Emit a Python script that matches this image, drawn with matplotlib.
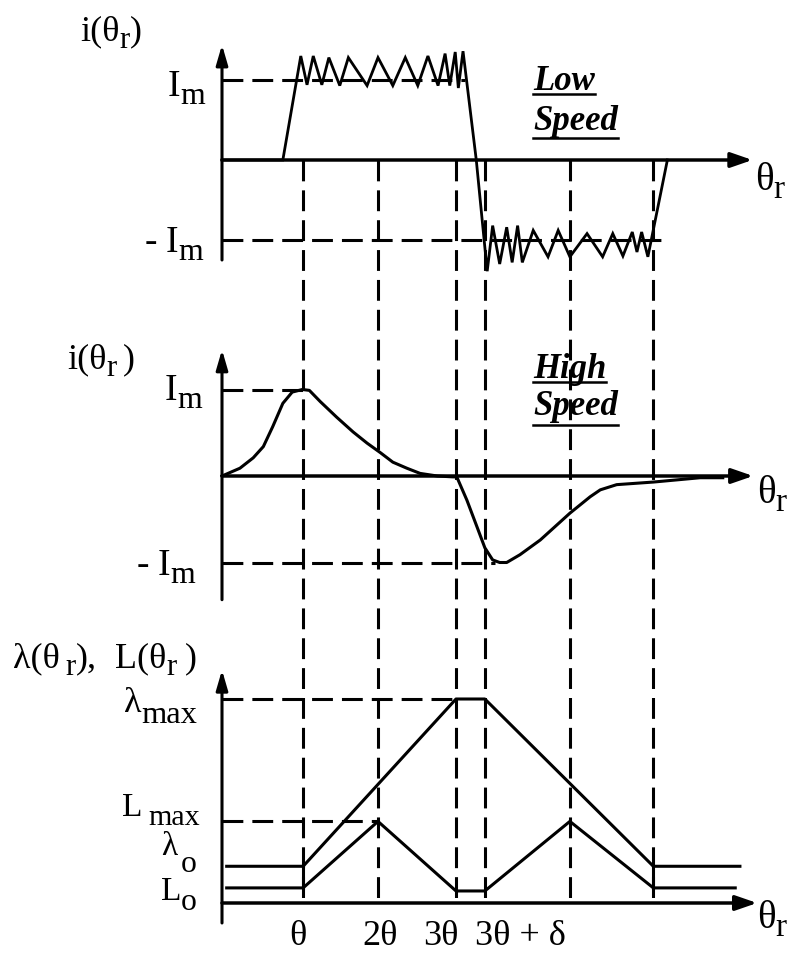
import matplotlib
matplotlib.use('Agg')
import matplotlib.pyplot as plt
from matplotlib.lines import Line2D

# ---------------- data (x in units of theta, y normalised per panel) ----------------
# positions of the vertical dashed marker lines
mark_x = [1.04, 2.0, 3.0, 3.37, 4.46, 5.53]

# low speed: chopped current around +Im / -Im  (Im = 1)
low_x = [0, 0.78, 1.01, 1.09, 1.17, 1.28, 1.37, 1.51, 1.62, 1.86,
         2.0, 2.19, 2.35, 2.51, 2.64, 2.77, 2.86, 2.92, 2.99, 3.03,
         3.09, 3.26, 3.40, 3.47, 3.56, 3.65, 3.72, 3.79, 3.85, 3.99,
         4.18, 4.31, 4.46, 4.68, 4.88, 5.01, 5.14, 5.26, 5.32, 5.38,
         5.46, 5.71]
low_i = [0, 0, 1.30, 0.94, 1.30, 0.94, 1.28, 0.93, 1.28, 0.93,
         1.28, 0.93, 1.28, 0.93, 1.30, 0.93, 1.33, 0.93, 1.35, 0.90,
         1.36, 0, -1.39, -0.82, -1.30, -0.84, -1.28, -0.82, -1.28, -0.88,
         -1.21, -0.88, -1.21, -0.92, -1.21, -0.92, -1.20, -0.90, -1.15, -0.90,
         -1.21, 0]

# high speed: single pulse current (Im = 1)
high_x = [0, 0.23, 0.40, 0.53, 0.65, 0.78, 0.90, 1.03, 1.12,
          1.26, 1.47, 1.68, 1.86, 2.03, 2.19, 2.37, 2.54, 2.76, 2.96,
          3.01, 3.14, 3.27, 3.37, 3.47, 3.56, 3.65, 3.82, 4.08, 4.46,
          4.72, 4.85, 5.06, 5.53, 6.13, 6.42]
high_i = [0, 0.09, 0.21, 0.34, 0.57, 0.84, 0.97, 1.0, 0.99,
          0.86, 0.68, 0.51, 0.38, 0.27, 0.16, 0.09, 0.03, 0.0, -0.01,
          -0.01, -0.28, -0.59, -0.83, -0.97, -1.0, -1.0, -0.91, -0.74, -0.43,
          -0.24, -0.16, -0.10, -0.07, -0.02, -0.02]

# flux linkage and inductance profiles (lambda_max = 1)
flux_x = [0.06, 1.04, 3.0, 3.37, 5.53, 6.64]
flux = [0.18, 0.18, 1.0, 1.0, 0.18, 0.18]
ind_x = [0.06, 1.04, 2.0, 3.0, 3.37, 4.46, 5.53, 6.58]
ind = [0.074, 0.074, 0.40, 0.059, 0.059, 0.40, 0.074, 0.074]

# reference levels (level, end of dashed line)
top_ref = [(1.0, 3.12), (-1.0, 5.72)]
mid_ref = [(1.0, 1.04), (-1.0, 3.5)]
bot_ref = [(1.0, 3.0), (0.40, 2.0)]

tick_labels = ['θ', '2θ', '3θ', '3θ + δ']

# ---------------- layout ----------------
W, H = 793, 956
X0, SX = 222, 78          # pixel of the origin, pixels per theta
LW = 2.2
DASH = (15, 6.5)
SERIF = 'Liberation Serif'

plt.rcParams['font.family'] = SERIF
plt.rcParams['lines.scale_dashes'] = False

fig = plt.figure(figsize=(W / 100, H / 100), dpi=100)
fig.patch.set_facecolor('white')
xlim = (-X0 / SX, (W - X0) / SX)

# overlay for the vertical dashed lines running through all panels
ov = fig.add_axes([0, 0, 1, 1])
ov.set_xlim(xlim)
ov.set_ylim(0, 1)
ov.axis('off')
for x in mark_x:
    ov.plot([x, x], [1 - 160 / H, 1 - 903 / H], color='k', lw=LW,
            linestyle=(0, DASH))


def panel(top_px, bot_px, axis_px, sy):
    ax = fig.add_axes([0, 1 - bot_px / H, 1, (bot_px - top_px) / H])
    ax.set_xlim(xlim)
    ax.set_ylim((axis_px - bot_px) / sy, (axis_px - top_px) / sy)
    ax.axis('off')
    return ax


def arrows(ax, y_lo, y_hi, x_hi):
    ax.annotate('', xy=(0, y_hi), xytext=(0, y_lo),
                arrowprops=dict(arrowstyle='-|>,head_length=1.2,head_width=0.35',
                                lw=LW, color='k', mutation_scale=10,
                                shrinkA=0, shrinkB=0))
    ax.annotate('', xy=(x_hi, 0), xytext=(0, 0),
                arrowprops=dict(arrowstyle='-|>,head_length=1.3,head_width=0.45',
                                lw=LW + 0.3, color='k', mutation_scale=10,
                                shrinkA=0, shrinkB=0))


def refs(ax, levels):
    for lev, xe in levels:
        ax.plot([0, xe], [lev, lev], color='k', lw=LW, linestyle=(0, DASH))


ax1 = panel(0, 290, 160, 80)
ax2 = panel(290, 615, 476, 86.5)
ax3 = panel(615, 956, 903, 204)

arrows(ax1, -1.25, 1.44, 6.8)
arrows(ax2, -1.43, 1.46, 6.81)
arrows(ax3, -0.098, 1.142, 6.86)

refs(ax1, top_ref)
refs(ax2, mid_ref)
refs(ax3, bot_ref)

ax1.plot(low_x, low_i, color='k', lw=2.0, solid_joinstyle='miter')
ax2.plot(high_x, high_i, color='k', lw=LW)
ax3.plot(flux_x, flux, color='k', lw=LW)
ax3.plot(ind_x, ind, color='k', lw=LW)
# solid joins between lambda_o and L_o at both corners
for x in (flux_x[1], flux_x[4]):
    ax3.plot([x, x], [ind[0], flux[0]], color='k', lw=LW)

# ---------------- text ----------------
renderer = fig.canvas.get_renderer()


def label(x, y, parts, size, ha='left', sub_scale=0.85, drop=7, **kw):
    """parts: strings, ('s', text) for lowered pieces, or numbers for px gaps"""
    items = []
    for p in parts:
        if isinstance(p, (int, float)):
            items.append((None, p, 0))
            continue
        if isinstance(p, tuple):
            t = fig.text(0, 0, p[1], size=size * sub_scale, va='baseline', **kw)
            items.append((t, None, drop))
        else:
            t = fig.text(0, 0, p, size=size, va='baseline', **kw)
            items.append((t, None, 0))
    widths = [t.get_window_extent(renderer).width if t is not None else g
              for t, g, _ in items]
    total = sum(widths)
    xc = x - total if ha == 'right' else (x - total / 2 if ha == 'center' else x)
    start = xc
    for (t, g, d), w in zip(items, widths):
        if t is not None:
            t.set_position((xc / W, 1 - (y + d) / H))
        xc += w
    return start, xc


def underlined(x, y, s, uy, size=25):
    x0, x1 = label(x, y, [s], size, fontweight='bold', fontstyle='italic')
    fig.add_artist(Line2D([x0 / W, x1 / W], [1 - uy / H, 1 - uy / H],
                          transform=fig.transFigure, color='k', lw=1.8))


# top panel
label(80, 40, ['i(θ', ('s', 'r'), ')'], 26, drop=8)
label(205, 96, ['I', ('s', 'm')], 27, ha='right', drop=8)
label(203, 252, ['-', 8, 'I', ('s', 'm')], 27, ha='right', drop=8)
label(755, 190, ['θ', ('s', 'r')], 28, drop=8)
underlined(533, 90, 'Low', 94)
underlined(533, 130, 'Speed', 138)

# middle panel
label(67, 368, ['i(θ', ('s', 'r'), 6, ')'], 26, drop=8)
label(202, 400, ['I', ('s', 'm')], 27, ha='right', drop=8)
label(195, 575, ['-', 8, 'I', ('s', 'm')], 27, ha='right', drop=8)
label(757, 503, ['θ', ('s', 'r')], 28, drop=8)
underlined(533, 378, 'High', 382)
underlined(533, 415, 'Speed', 425)

# bottom panel
label(13, 667, ['λ(θ', 6, ('s', 'r'), '),', 18, 'L(θ', ('s', 'r'), 8, ')'], 26,
      drop=8)
label(197, 712, ['λ', ('s', 'max')], 26, ha='right', sub_scale=0.9, drop=11)
label(200, 816, ['L', 6, ('s', 'max')], 24, ha='right', sub_scale=0.9, drop=9)
label(197, 855, ['λ', 4, ('s', 'o')], 24, ha='right', sub_scale=0.95, drop=17)
label(197, 900, ['L', ('s', 'o')], 24, ha='right', sub_scale=0.95, drop=10)
label(757, 928, ['θ', ('s', 'r')], 28, drop=8)

tick_px = [298, 380, 441, 520]
for s, xp in zip(tick_labels, tick_px):
    label(xp, 945, [s], 26, ha='center')

fig.savefig('out.png', dpi=100, facecolor='white')
